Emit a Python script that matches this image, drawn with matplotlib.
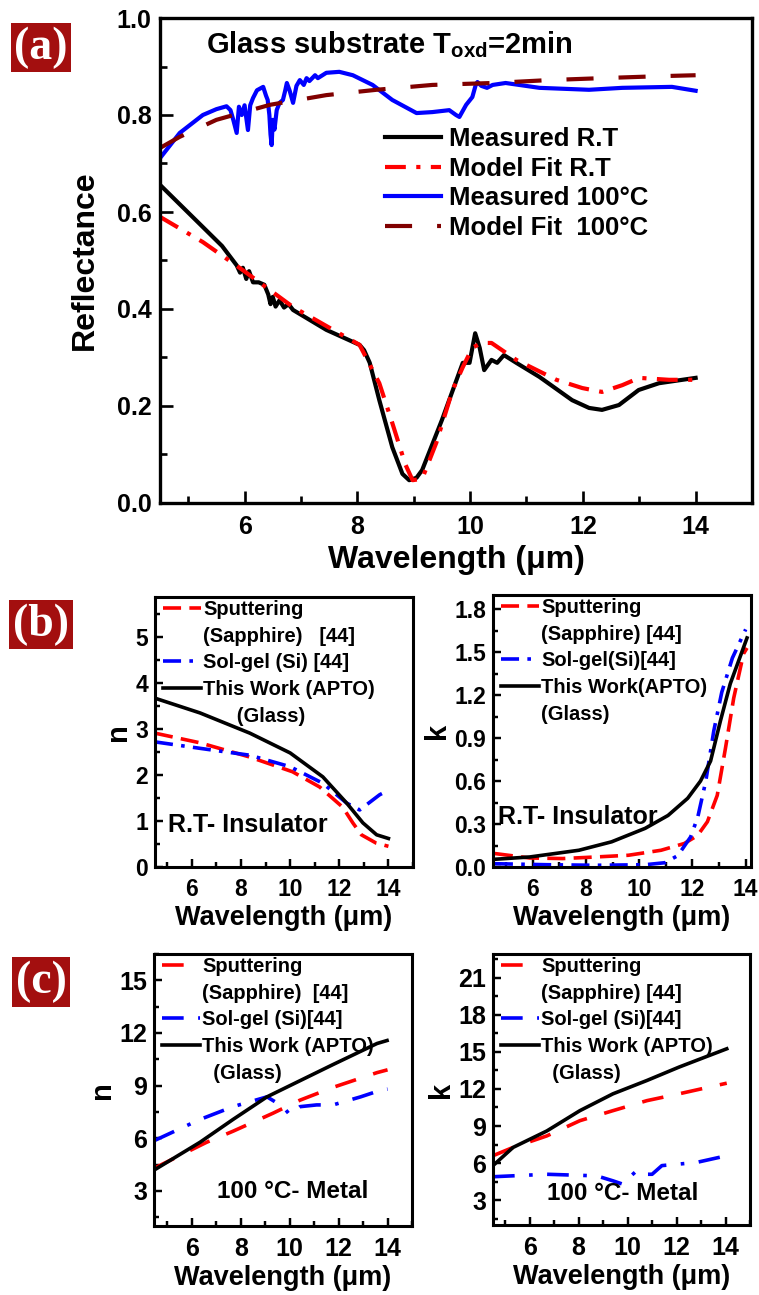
import numpy as np
import matplotlib
matplotlib.use("Agg")
import matplotlib.pyplot as plt
from matplotlib.lines import Line2D
from matplotlib.ticker import MultipleLocator, FormatStrFormatter

plt.rcParams['font.family'] = ['Liberation Sans', 'DejaVu Sans']
plt.rcParams['font.weight'] = 'bold'
plt.rcParams['axes.labelweight'] = 'bold'
plt.rcParams['mathtext.fontset'] = 'custom'
plt.rcParams['mathtext.rm'] = 'Liberation Sans:bold'
plt.rcParams['mathtext.bf'] = 'Liberation Sans:bold'

# ---- panel (a): reflectance ----
wl_rt = [4.5, 5.26, 5.6, 5.86, 5.92, 5.97, 6.03, 6.08, 6.15, 6.25, 6.35, 6.42, 6.46,
         6.5, 6.55, 6.62, 6.7, 6.78, 6.86, 7.45, 8.04, 8.12, 8.22, 8.39, 8.62, 8.8,
         8.92, 9.05, 9.15, 9.5, 9.87, 9.99, 10.09, 10.17, 10.25, 10.38, 10.48, 10.6,
         10.82, 11.23, 11.81, 12.11, 12.34, 12.64, 12.99, 13.35, 14.0]
r_rt = [0.656, 0.569, 0.53, 0.49, 0.475, 0.485, 0.462, 0.478, 0.455, 0.455, 0.45, 0.43,
        0.41, 0.425, 0.405, 0.418, 0.403, 0.41, 0.398, 0.357, 0.326, 0.315, 0.289, 0.212,
        0.115, 0.06, 0.047, 0.052, 0.068, 0.171, 0.289, 0.289, 0.35, 0.32, 0.274, 0.295,
        0.289, 0.305, 0.289, 0.26, 0.212, 0.196, 0.192, 0.202, 0.233, 0.247, 0.258]

wl_fit_rt = [4.5, 5.26, 5.97, 6.86, 8.04, 8.39, 8.62, 8.85, 8.98, 9.15, 9.4, 9.69, 9.87,
             10.04, 10.2, 10.38, 10.82, 11.53, 11.99, 12.34, 12.7, 13.0, 13.53, 14.0]
r_fit_rt = [0.59, 0.538, 0.48, 0.404, 0.326, 0.247, 0.165, 0.08, 0.047, 0.05, 0.124, 0.233,
            0.28, 0.32, 0.33, 0.33, 0.295, 0.254, 0.237, 0.229, 0.243, 0.258, 0.254, 0.254]

wl_100 = [4.5, 4.85, 5.26, 5.5, 5.68, 5.75, 5.8, 5.86, 5.9, 5.95, 6.0, 6.06, 6.1, 6.15,
          6.22, 6.33, 6.38, 6.41, 6.44, 6.46, 6.48, 6.5, 6.53, 6.57, 6.62, 6.68, 6.72,
          6.75, 6.8, 6.86, 6.92, 6.98, 7.05, 7.1, 7.15, 7.25, 7.3, 7.45, 7.68, 7.92,
          8.27, 8.62, 9.05, 9.33, 9.63, 9.75, 9.81, 9.93, 10.04, 10.1, 10.13, 10.2, 10.3,
          10.4, 10.63, 11.23, 12.11, 12.7, 13.58, 14.0]
r_100 = [0.711, 0.763, 0.8, 0.812, 0.818, 0.81, 0.79, 0.763, 0.817, 0.8, 0.82, 0.769,
         0.82, 0.835, 0.851, 0.858, 0.84, 0.831, 0.8, 0.76, 0.738, 0.79, 0.77, 0.81,
         0.825, 0.831, 0.85, 0.866, 0.85, 0.825, 0.86, 0.872, 0.862, 0.876, 0.87, 0.882,
         0.876, 0.887, 0.889, 0.882, 0.862, 0.831, 0.804, 0.806, 0.81, 0.8, 0.796, 0.821,
         0.837, 0.862, 0.868, 0.86, 0.856, 0.862, 0.866, 0.856, 0.852, 0.856, 0.858, 0.85]

wl_fit_100 = [4.5, 4.85, 5.5, 6.45, 7.45, 8.34, 9.33, 10.4, 11.4, 12.34, 13.35, 14.0]
r_fit_100 = [0.732, 0.755, 0.79, 0.821, 0.841, 0.852, 0.862, 0.866, 0.872, 0.876, 0.88, 0.882]

# ---- panel (b): R.T insulator ----
wl_b_n = [4.5, 6.33, 8.36, 10.0, 11.33, 12.3, 12.96, 13.52, 14.0]
n_b_work = [3.67, 3.35, 2.91, 2.48, 1.96, 1.39, 0.96, 0.70, 0.62]
wl_b_sp = [4.5, 6.33, 8.36, 10.1, 11.2, 12.14, 12.55, 12.9, 13.5, 14.0]
n_b_sp = [2.91, 2.7, 2.39, 2.07, 1.74, 1.30, 0.96, 0.7, 0.52, 0.45]
wl_b_sg = [4.5, 6.33, 8.36, 10.0, 11.33, 12.3, 12.83, 13.64, 14.0]
n_b_sg = [2.72, 2.58, 2.43, 2.18, 1.82, 1.39, 1.24, 1.57, 1.67]

wl_b_k_work = [4.57, 5.88, 7.73, 8.96, 10.22, 11.08, 11.82, 12.3, 12.68, 13.05, 13.42, 14.05]
k_b_work = [0.054, 0.07, 0.117, 0.176, 0.27, 0.36, 0.48, 0.6, 0.74, 1.02, 1.28, 1.6]
wl_b_k_sp = [4.57, 5.88, 7.12, 8.36, 9.59, 10.82, 11.69, 12.19, 12.56, 12.93, 13.24, 13.55,
             13.92, 14.05]
k_b_sp = [0.094, 0.063, 0.059, 0.07, 0.082, 0.117, 0.164, 0.22, 0.316, 0.5, 0.83, 1.18,
          1.49, 1.53]
wl_b_k_sg = [4.57, 6.5, 8.36, 10.22, 10.97, 11.45, 11.93, 12.2, 12.5, 12.8, 13.1, 13.5, 14.0]
k_b_sg = [0.023, 0.016, 0.012, 0.016, 0.03, 0.08, 0.21, 0.35, 0.6, 0.95, 1.22, 1.46, 1.66]

# ---- panel (c): 100 C metal ----
wl_c_n_work = [4.47, 6.33, 7.68, 9.07, 10.42, 11.77, 13.57, 13.98]
n_c_work = [4.2, 5.77, 7.07, 8.36, 9.28, 10.2, 11.4, 11.57]
wl_c_n_sp = [4.47, 6.6, 7.68, 9.32, 10.42, 11.77, 13.57, 14.0]
n_c_sp = [4.3, 5.77, 6.4, 7.43, 8.17, 8.9, 9.74, 9.9]
wl_c_n_sg = [4.47, 6.33, 7.68, 9.07, 9.73, 10.0, 10.42, 11.1, 11.77, 12.9, 13.7, 14.0]
n_c_sg = [5.87, 7.07, 7.8, 8.36, 7.8, 7.34, 7.8, 7.9, 7.9, 8.36, 8.73, 8.8]

wl_c_k_work = [4.5, 5.32, 6.7, 8.05, 9.4, 10.79, 12.1, 14.05]
k_c_work = [5.8, 7.27, 8.6, 10.24, 11.6, 12.68, 13.76, 15.24]
wl_c_k_sp = [4.5, 5.32, 6.7, 8.05, 9.4, 10.79, 12.1, 14.05]
k_c_sp = [6.6, 7.27, 8.2, 9.43, 10.24, 11.05, 11.6, 12.46]
wl_c_k_sg = [4.5, 6.7, 8.74, 9.4, 9.8, 10.1, 10.38, 10.79, 11.0, 11.4, 12.8, 14.05]
k_c_sg = [4.9, 5.1, 4.97, 4.57, 4.3, 4.9, 5.4, 5.1, 5.1, 5.8, 6.05, 6.6]

W, H = 759, 1295
fig = plt.figure(figsize=(W / 100, H / 100), dpi=100)


def box(x0, y0, x1, y1):
    return [x0 / W, 1 - y1 / H, (x1 - x0) / W, (y1 - y0) / H]


def style(ax, fs, lw=2.2, maj=7, mnr=4, pad=5):
    for s in ax.spines.values():
        s.set_linewidth(lw)
    ax.tick_params(which='both', direction='in', width=lw * 0.8, labelsize=fs,
                   top=False, right=False)
    ax.tick_params(which='major', length=maj, pad=pad)
    ax.tick_params(which='minor', length=mnr)
    ax.xaxis.set_major_locator(MultipleLocator(2))
    ax.xaxis.set_minor_locator(MultipleLocator(1))


def tag(y0, y1, s):
    fig.text(41 / W, 1 - (y0 + y1) / 2 / H, s, color='white', fontsize=33,
             family='Liberation Serif', fontweight='bold', ha='center', va='center',
             bbox=dict(boxstyle='square,pad=0.08', fc='#a30f0f', ec='none'))


# (a)
ax = fig.add_axes(box(160, 18, 752, 503))
ax.plot(wl_rt, r_rt, color='black', lw=3, label='Measured R.T')
ax.plot(wl_fit_rt, r_fit_rt, color='red', lw=3, dashes=(5, 2.5, 1, 2.5), label='Model Fit R.T')
ax.plot(wl_100, r_100, color='blue', lw=3, label='Measured 100°C')
ax.plot(wl_fit_100, r_fit_100, color='#800000', lw=3, dashes=(6.5, 6), label='Model Fit  100°C')
ax.set_xlim(4.5, 15)
ax.set_ylim(0, 1.0)
style(ax, 18, lw=2.4, maj=9, mnr=5, pad=9)
ax.tick_params(axis='y', pad=6)
ax.yaxis.set_major_locator(MultipleLocator(0.2))
ax.yaxis.set_minor_locator(MultipleLocator(0.1))
ax.yaxis.set_major_formatter(FormatStrFormatter('%.1f'))
ax.set_xlabel('Wavelength (μm)', fontsize=23, labelpad=4)
ax.set_ylabel('Reflectance', fontsize=23, labelpad=12)
ax.text(0.077, 0.945, r'Glass substrate T$_{\mathrm{oxd}}$=2min', transform=ax.transAxes,
        fontsize=21, ha='left', va='center')
ax.legend(loc='upper left', bbox_to_anchor=(0.38, 0.775), frameon=False, fontsize=18.5,
          handlelength=2.2, handletextpad=0.3, labelspacing=0.22, borderpad=0, borderaxespad=0)
tag(22, 73, '(a)')

blank = Line2D([], [], color='none')


def panel(rect, xr, yr, major, minor, fmt, ylab, series, labels, text, tpos, tfs, fs, lfs):
    ax = fig.add_axes(box(*rect))
    hs = []
    for xs, ys, c, d in series:
        if d:
            l, = ax.plot(xs, ys, color=c, lw=2.6, dashes=d)
        else:
            l, = ax.plot(xs, ys, color=c, lw=2.6)
        hs.append(l)
    ax.set_xlim(*xr)
    ax.set_ylim(*yr)
    style(ax, fs, lw=2.2, maj=6, mnr=3.5, pad=8)
    ax.tick_params(axis='y', pad=5)
    ax.yaxis.set_major_locator(MultipleLocator(major))
    ax.yaxis.set_minor_locator(MultipleLocator(minor))
    ax.yaxis.set_major_formatter(FormatStrFormatter(fmt))
    ax.set_xlabel('Wavelength (μm)', fontsize=19.5, labelpad=3)
    ax.set_ylabel(ylab, fontsize=21, labelpad=2)
    ax.text(tpos[0], tpos[1], text, transform=ax.transAxes, fontsize=tfs, ha='left', va='center')
    handles = [hs[0], blank, hs[1], hs[2], blank]
    ax.legend(handles, labels, loc='upper left', bbox_to_anchor=(0.02, 1.0), frameon=False,
              fontsize=lfs, handlelength=1.9, handletextpad=0.1, labelspacing=0.38,
              borderpad=0.15, borderaxespad=0)
    return ax


# (b)
panel((155, 597, 413, 867), (4.5, 15), (0, 5.87), 1, 0.5, '%d', 'n',
      [(wl_b_sp, n_b_sp, 'red', (5, 2.3)),
       (wl_b_sg, n_b_sg, 'blue', (5, 2.3, 1, 2.3)),
       (wl_b_n, n_b_work, 'black', None)],
      ['Sputtering', '(Sapphire)   [44]', 'Sol-gel (Si) [44]', 'This Work (APTO)', '      (Glass)'],
      'R.T- Insulator', (0.05, 0.156), 18, 16.5, 14.5)
panel((493, 595, 751, 867), (4.5, 14.2), (0, 1.9), 0.3, 0.15, '%.1f', 'k',
      [(wl_b_k_sp, k_b_sp, 'red', (5, 2.3)),
       (wl_b_k_sg, k_b_sg, 'blue', (5, 2.3, 1, 2.3)),
       (wl_b_k_work, k_b_work, 'black', None)],
      ['Sputtering', '(Sapphire) [44]', 'Sol-gel(Si)[44]', 'This Work(APTO)', '(Glass)'],
      'R.T- Insulator', (0.02, 0.184), 18, 16.5, 14.5)
tag(598, 651, '(b)')

# (c)
panel((154, 954, 412, 1226), (4.45, 15), (1, 16.5), 3, 1.5, '%d', 'n',
      [(wl_c_n_sp, n_c_sp, 'red', (6, 5)),
       (wl_c_n_sg, n_c_sg, 'blue', (6, 4, 1, 4)),
       (wl_c_n_work, n_c_work, 'black', None)],
      ['Sputtering', '(Sapphire)  [44]', 'Sol-gel (Si)[44]', 'This Work (APTO)', '  (Glass)'],
      '100 °C- Metal', (0.244, 0.125), 17.5, 18, 14.5)
panel((493, 954, 750, 1225), (4.5, 15), (1, 22.9), 3, 1.5, '%d', 'k',
      [(wl_c_k_sp, k_c_sp, 'red', (6, 5)),
       (wl_c_k_sg, k_c_sg, 'blue', (6, 4, 1, 4)),
       (wl_c_k_work, k_c_work, 'black', None)],
      ['Sputtering', '(Sapphire) [44]', 'Sol-gel (Si)[44]', 'This Work (APTO)', '  (Glass)'],
      '100 °C- Metal', (0.21, 0.118), 17.5, 18, 14.5)
tag(956, 1008, '(c)')

fig.savefig('out.png', dpi=100)
